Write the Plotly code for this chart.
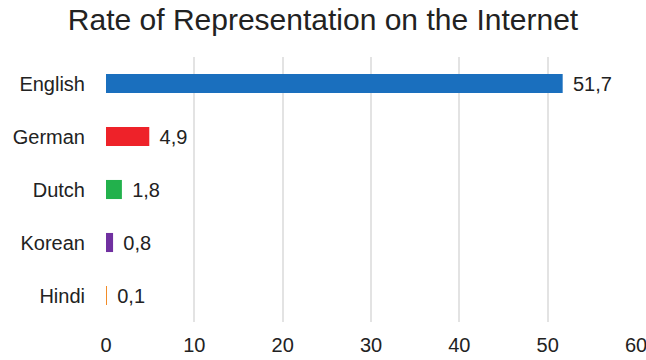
import plotly.graph_objects as go

languages = ["English", "German", "Dutch", "Korean", "Hindi"]
rates = [51.7, 4.9, 1.8, 0.8, 0.1]
colors = ["#1a6fbe", "#ee2229", "#22b14c", "#7030a0", "#f28c28"]
x_ticks = [0, 10, 20, 30, 40, 50, 60]

fig = go.Figure(go.Bar(
    y=languages,
    x=rates,
    orientation="h",
    marker=dict(color=colors, line=dict(width=0)),
    width=0.36,
    text=[(" \u200a" + f"{v:.1f}".replace(".", ",")) for v in rates],
    textposition="outside",
    constraintext="none",
    textfont=dict(size=20, color="#222222"),
    cliponaxis=False,
))

fig.update_layout(
    width=646, height=360,
    margin=dict(l=106, r=10, t=57, b=38, autoexpand=False),
    paper_bgcolor="white", plot_bgcolor="white",
    font=dict(family="Liberation Sans, Arial, sans-serif", color="#222222"),
    title=dict(text="Rate of Representation on the Internet", x=0.5, xanchor="center",
               y=0.945, yanchor="middle", xref="container",
               font=dict(size=30, color="#222222")),
    showlegend=False,
)
fig.update_xaxes(range=[0, 60], tickvals=x_ticks, ticktext=[str(t) for t in x_ticks],
                 showgrid=True, gridcolor="#e3e3e3", gridwidth=1.5,
                 zeroline=False, showline=False, automargin=False,
                 ticklabeloverflow="allow",
                 ticks="outside", ticklen=5, tickcolor="rgba(0,0,0,0)",
                 tickfont=dict(size=20))
fig.update_yaxes(categoryorder="array", categoryarray=languages[::-1],
                 showgrid=False, showline=False, zeroline=False, automargin=False,
                 ticks="outside", ticklen=16, tickcolor="rgba(0,0,0,0)",
                 tickfont=dict(size=20))

fig.write_html("out.html")
